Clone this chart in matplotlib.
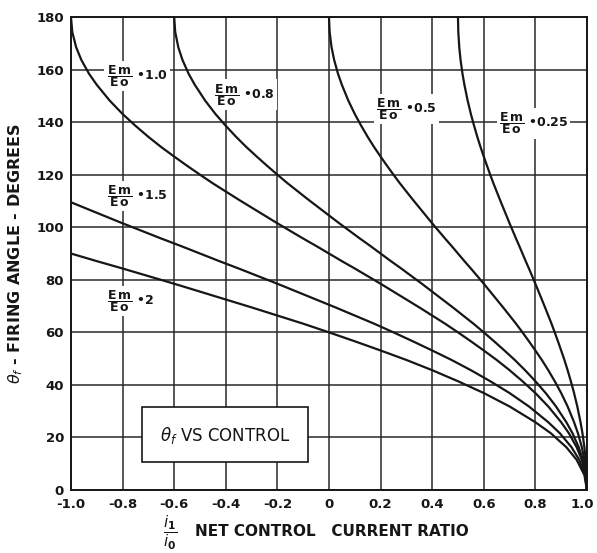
import matplotlib
matplotlib.use('Agg')
import matplotlib.pyplot as plt
from matplotlib.patches import Rectangle
from matplotlib.transforms import ScaledTranslation

plt.rcParams['font.family'] = ['DejaVu Sans']
plt.rcParams['mathtext.fontset'] = 'custom'
plt.rcParams['mathtext.rm'] = 'DejaVu Sans:bold'
plt.rcParams['mathtext.it'] = 'DejaVu Sans:italic'
plt.rcParams['mathtext.bf'] = 'DejaVu Sans:bold'
plt.rcParams['mathtext.sf'] = 'DejaVu Sans:bold'

# ---- axis ticks ----
x_ticks = [-1.0, -0.8, -0.6, -0.4, -0.2, 0.0, 0.2, 0.4, 0.6, 0.8, 1.0]
x_tick_labels = ['-1.0', '-0.8', '-0.6', '-0.4', '-0.2', '0', '0.2', '0.4', '0.6', '0.8', '1.0']
y_ticks = [0, 20, 40, 60, 80, 100, 120, 140, 160, 180]
y_tick_labels = ['0', '20', '40', '60', '80', '100', '120', '140', '160', '180']

# ---- curves (firing angle in degrees vs net control current ratio) ----
ratio_labels = ['1.0', '0.8', '0.5', '0.25', '1.5', '2']

# firing angles read along the four curves that start at 180 deg
theta_steep = [180, 174.3, 168.5, 163.7, 158.4, 154.2, 148.2, 143.1, 138.6, 134.4, 130.5,
               126.9, 123.4, 120.0, 116.7, 113.6, 110.5, 107.5, 104.5, 101.5, 98.6, 95.7,
               92.9, 90.0, 87.1, 84.3, 81.4, 78.5, 75.5, 72.5, 69.5, 66.4, 63.3, 60.0,
               56.6, 53.1, 49.5, 45.6, 41.4, 36.9, 31.8, 25.8, 21.6, 16.3, 11.5, 5.7, 0]

x_r10 = [-1.0, -0.995, -0.98, -0.96, -0.93, -0.9, -0.85, -0.8, -0.75, -0.7, -0.65,
         -0.6, -0.55, -0.5, -0.45, -0.4, -0.35, -0.3, -0.25, -0.2, -0.15, -0.1,
         -0.05, 0.0, 0.05, 0.1, 0.15, 0.2, 0.25, 0.3, 0.35, 0.4, 0.45, 0.5,
         0.55, 0.6, 0.65, 0.7, 0.75, 0.8, 0.85, 0.9, 0.93, 0.96, 0.98, 0.995, 1.0]
x_r08 = [-0.6, -0.596, -0.584, -0.568, -0.544, -0.52, -0.48, -0.44, -0.4, -0.36, -0.32,
         -0.28, -0.24, -0.2, -0.16, -0.12, -0.08, -0.04, 0.0, 0.04, 0.08, 0.12,
         0.16, 0.2, 0.24, 0.28, 0.32, 0.36, 0.4, 0.44, 0.48, 0.52, 0.56, 0.6,
         0.64, 0.68, 0.72, 0.76, 0.8, 0.84, 0.88, 0.92, 0.944, 0.968, 0.984, 0.996, 1.0]
x_r05 = [0.0, 0.0025, 0.01, 0.02, 0.035, 0.05, 0.075, 0.1, 0.125, 0.15, 0.175,
         0.2, 0.225, 0.25, 0.275, 0.3, 0.325, 0.35, 0.375, 0.4, 0.425, 0.45,
         0.475, 0.5, 0.525, 0.55, 0.575, 0.6, 0.625, 0.65, 0.675, 0.7, 0.725, 0.75,
         0.775, 0.8, 0.825, 0.85, 0.875, 0.9, 0.925, 0.95, 0.965, 0.98, 0.99, 0.9975, 1.0]
x_r025 = [0.5, 0.5013, 0.505, 0.51, 0.5175, 0.525, 0.5375, 0.55, 0.5625, 0.575, 0.5875,
          0.6, 0.6125, 0.625, 0.6375, 0.65, 0.6625, 0.675, 0.6875, 0.7, 0.7125, 0.725,
          0.7375, 0.75, 0.7625, 0.775, 0.7875, 0.8, 0.8125, 0.825, 0.8375, 0.85, 0.8625, 0.875,
          0.8875, 0.9, 0.9125, 0.925, 0.9375, 0.95, 0.9625, 0.975, 0.9825, 0.99, 0.995, 0.9988, 1.0]

x_r15 = [-1.0, -0.95, -0.875, -0.8, -0.725, -0.65, -0.575, -0.5, -0.425, -0.35, -0.275,
         -0.2, -0.125, -0.05, 0.025, 0.1, 0.175, 0.25, 0.325, 0.4, 0.475, 0.55,
         0.625, 0.7, 0.775, 0.85, 0.895, 0.94, 0.97, 0.9925, 1.0]
t_r15 = [109.5, 107.5, 104.5, 101.5, 98.6, 95.7, 92.9, 90.0, 87.1, 84.3, 81.4,
         78.5, 75.5, 72.5, 69.5, 66.4, 63.3, 60.0, 56.6, 53.1, 49.5, 45.6,
         41.4, 36.9, 31.8, 25.8, 21.6, 16.3, 11.5, 5.7, 0]

x_r20 = [-1.0, -0.9, -0.8, -0.7, -0.6, -0.5, -0.4, -0.3, -0.2, -0.1, 0.0, 0.1,
         0.2, 0.3, 0.4, 0.5, 0.6, 0.7, 0.8, 0.86, 0.92, 0.96, 0.99, 1.0]
t_r20 = [90.0, 87.1, 84.3, 81.4, 78.5, 75.5, 72.5, 69.5, 66.4, 63.3, 60.0, 56.6,
         53.1, 49.5, 45.6, 41.4, 36.9, 31.8, 25.8, 21.6, 16.3, 11.5, 5.7, 0]

curves_x = [x_r10, x_r08, x_r05, x_r025, x_r15, x_r20]
curves_t = [theta_steep, theta_steep, theta_steep, theta_steep, t_r15, t_r20]

# label anchor (left edge, fraction-bar height) for each curve label
label_pos = [(-0.862, 157.5), (-0.444, 150.5), (0.184, 145.0), (0.660, 139.5),
             (-0.862, 112.0), (-0.862, 72.0)]

fig = plt.figure(figsize=(5.97, 5.53), dpi=100)
ax = fig.add_axes([0.1189, 0.1139, 0.8643, 0.8553])

ink = '#161616'
for xs, ts in zip(curves_x, curves_t):
    ax.plot(xs, ts, color=ink, lw=1.6, zorder=3)

ax.set_xlim(-1.0, 1.0)
ax.set_ylim(0, 180)
ax.set_xticks(x_ticks)
ax.set_xticklabels(x_tick_labels)
ax.set_yticks(y_ticks)
ax.set_yticklabels(y_tick_labels)
ax.tick_params(length=0, labelsize=9.5, colors=ink)
ax.tick_params(axis='x', pad=6)
ax.tick_params(axis='y', pad=5)
for lab in ax.get_xticklabels() + ax.get_yticklabels():
    lab.set_fontweight('bold')
last = ax.get_xticklabels()[-1]
last.set_transform(last.get_transform() + ScaledTranslation(-3 / 72, 0, fig.dpi_scale_trans))
ax.grid(True, color='#2a2a2a', lw=1.1, zorder=1)
ax.set_axisbelow(True)
for sp in ax.spines.values():
    sp.set_color(ink)
    sp.set_linewidth(1.4)

for (lx, ly), r in zip(label_pos, ratio_labels):
    ax.text(lx, ly, r'$\dfrac{\mathrm{E\,m}}{\mathrm{E\,o}}$' + ' \u2022' + r,
            ha='left', va='center', fontsize=9, fontweight='bold', color=ink,
            zorder=2, bbox=dict(facecolor='white', edgecolor='none', pad=1.5))

# boxed title
ax.add_patch(Rectangle((-0.725, 10.7), 0.644, 20.9, facecolor='white',
                       edgecolor=ink, lw=1.2, zorder=2))
ax.text(-0.403, 20.8, r'$\theta_f$ VS CONTROL', ha='center', va='center',
        fontsize=12, color=ink, zorder=4)

fig.text(0.027, 0.542, r'$\theta_f$ - FIRING ANGLE - DEGREES', rotation=90,
         ha='center', va='center', fontsize=11.5, fontweight='bold', color=ink)
fig.text(0.285, 0.036, r'$\dfrac{i_1}{i_0}$', ha='center', va='center',
         fontsize=11, color=ink)
fig.text(0.327, 0.038, 'NET CONTROL   CURRENT RATIO', ha='left', va='center',
         fontsize=11, fontweight='bold', color=ink)

fig.savefig('out.png', dpi=100)
